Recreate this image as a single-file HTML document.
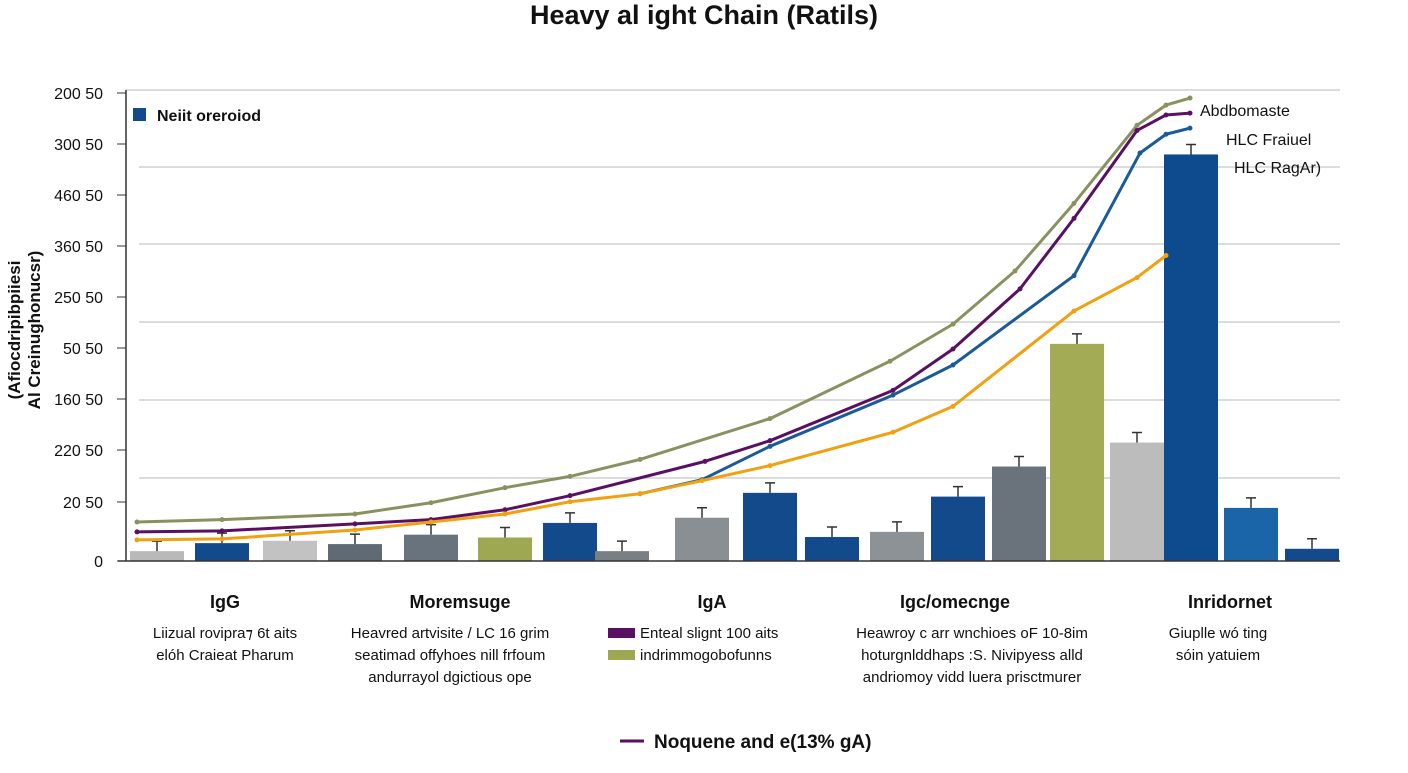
<!DOCTYPE html>
<html><head><meta charset="utf-8"><style>
body{margin:0;background:#fff;font-family:"Liberation Sans",sans-serif;}
svg text{font-family:"Liberation Sans",sans-serif;}
</style></head><body>
<svg width="1408" height="768" viewBox="0 0 1408 768">
<script>
const yTicks=["200 50","300 50","460 50","360 50","250 50","50 50","160 50","220 50","20 50","0"];
const barX=[157,222,290,355,431,505,570,622,702,770,832,897,958,1019,1077,1137,1191,1251,1312];
const barVals=[2.1,3.8,4.3,3.6,5.6,5.0,8.1,2.1,9.2,14.5,5.1,6.2,13.7,20.1,46.2,25.2,86.5,11.3,2.6];
const barColors=["#b9b9b9","#124a8c","#c2c2c2","#5f6a75","#68737e","#9ea852","#124a8c","#7a7f84","#8a8f94","#124a8c","#124a8c","#8d9297","#124a8c","#6a737c","#a3ab55","#bcbcbc","#0e4a8e","#1a64a8","#124a8c"];
const lineX1=[137,222,355,431,505,570,640,770,890,953,1015,1074,1137,1166,1190];
const olive=[8.3,8.8,10.0,12.4,15.6,18.0,21.6,30.3,42.5,50.4,61.7,76.1,92.7,97.0,98.5];
const lineX2=[137,222,355,431,505,570,705,770,893,953,1020,1074,1137,1166,1190];
const purple=[6.2,6.4,7.9,8.8,10.9,13.9,21.2,25.6,36.3,45.1,57.9,72.9,91.6,94.9,95.3];
const lineX3=[640,702,770,893,953,1074,1140,1166,1190];
const blue=[14.3,17.3,24.4,35.3,41.7,60.7,86.8,90.8,92.1];
const lineX4=[137,222,355,431,505,570,640,702,770,893,953,1074,1137,1166];
const orange=[4.5,4.7,6.6,8.3,10.0,12.6,14.3,17.1,20.3,27.4,32.9,53.2,60.3,65.0];
</script>
<text x="704" y="24" text-anchor="middle" font-size="27" font-weight="bold" fill="#111">Heavy al ight Chain (Ratils)</text>
<g id="grid"></g><g id="bars"></g><g id="lines"></g>
<line x1="126" y1="90" x2="126" y2="561" stroke="#333" stroke-width="1.5"/>
<line x1="118" y1="561" x2="1340" y2="561" stroke="#333" stroke-width="1.5"/>
<g id="yt"></g>
<text transform="translate(20,330) rotate(-90)" text-anchor="middle" font-size="17" font-weight="bold" fill="#111"><tspan x="0" dy="0">(Afiocdripibpiiesi</tspan><tspan x="0" dy="20">Al Creinughonucsr)</tspan></text>
<rect x="133" y="108" width="13" height="13" fill="#124a8c"/>
<text x="157" y="121" font-size="16" font-weight="bold" fill="#111">Neiit oreroiod</text>
<text x="1200" y="116" font-size="16" fill="#111">Abdbomaste</text>
<text x="1226" y="145" font-size="16" fill="#111">HLC Fraiuel</text>
<text x="1234" y="173" font-size="16" fill="#111">HLC RagAr)</text>
<g font-size="15" fill="#111" text-anchor="middle">
<text x="225" y="608" font-size="18" font-weight="bold">IgG</text>
<text x="225" y="638">Liizual rovipra⁊ 6t aits</text>
<text x="225" y="660">elóh Craieat Pharum</text>
<text x="460" y="608" font-size="18" font-weight="bold">Moremsuge</text>
<text x="450" y="638">Heavred artvisite / LC 16 grim</text>
<text x="450" y="660">seatimad offyhoes nill frfoum</text>
<text x="450" y="682">andurrayol dgictious ope</text>
<text x="712" y="608" font-size="18" font-weight="bold">IgA</text>
<text x="955" y="608" font-size="18" font-weight="bold">Igc/omecnge</text>
<text x="972" y="638">Heawroy c arr wnchioes oF 10-8im</text>
<text x="972" y="660">hoturgnlddhaps :S. Nivipyess alld</text>
<text x="972" y="682">andriomoy vidd luera prisctmurer</text>
<text x="1230" y="608" font-size="18" font-weight="bold">Inridornet</text>
<text x="1218" y="638">Giuplle wó ting</text>
<text x="1218" y="660">sóin yatuiem</text>
</g>
<rect x="608" y="628" width="27" height="10" fill="#5a1062"/>
<text x="640" y="638" font-size="15" fill="#111">Enteal slignt 100 aits</text>
<rect x="608" y="650" width="27" height="10" fill="#9ea852"/>
<text x="640" y="660" font-size="15" fill="#111">indrimmogobofunns</text>
<line x1="620" y1="741" x2="644" y2="741" stroke="#5a1062" stroke-width="3"/>
<text x="654" y="748" font-size="19" font-weight="bold" fill="#111">Noquene and e(13% gA)</text>
<script>
const NS="http://www.w3.org/2000/svg";
const y0=561,k=4.7;
function ys(v){return y0-v*k;}
function mk(t,a,p){const e=document.createElementNS(NS,t);for(const n in a)e.setAttribute(n,a[n]);p.appendChild(e);return e;}
const tickY=[93,144,195,246,297,348,399,450,502,561];
const yt=document.getElementById('yt');
yTicks.forEach((t,i)=>{const l=mk('line',{x1:117,y1:tickY[i],x2:126,y2:tickY[i],stroke:'#333'},yt);


const tx=mk('text',{x:103,y:tickY[i]+6,'text-anchor':'end','font-size':16,fill:'#111'},yt);tx.textContent=t;

});
const g=document.getElementById('grid');
[90,167,244,322,400,478].forEach((y,i)=>{const l=mk('line',{x1:i?139:126,y1:y,x2:1340,y2:y,stroke:'#c8c8c8','stroke-width':1.3},g);

});
const b=document.getElementById('bars');
barX.forEach((x,i)=>{const r=mk('rect',{x:x-27,y:ys(barVals[i]),width:54,height:barVals[i]*k,fill:barColors[i]},b);


const e=mk('path',{d:`M${x} ${ys(barVals[i])-10}V${ys(barVals[i])}M${x-5} ${ys(barVals[i])-10}H${x+5}`,stroke:'#333','stroke-width':1.5,fill:'none'},b);

});
const L=document.getElementById('lines');
[[lineX1,olive,'#8a9160','line-olive'],[lineX2,purple,'#5a1062','line-purple'],[lineX3,blue,'#1a5a9a','line-blue'],[lineX4,orange,'#f0a010','line-orange']].forEach(([xs,vs,c,n])=>{
const d=xs.map((x,i)=>(i?'L':'M')+x+' '+ys(vs[i])).join('');
const p=mk('path',{d:d,stroke:c,'stroke-width':3,fill:'none','stroke-linejoin':'round'},L);


xs.forEach((x,i)=>{const m=mk('circle',{cx:x,cy:ys(vs[i]),r:2.5,fill:c},L);

});});
</script>
</svg>
</body></html>
